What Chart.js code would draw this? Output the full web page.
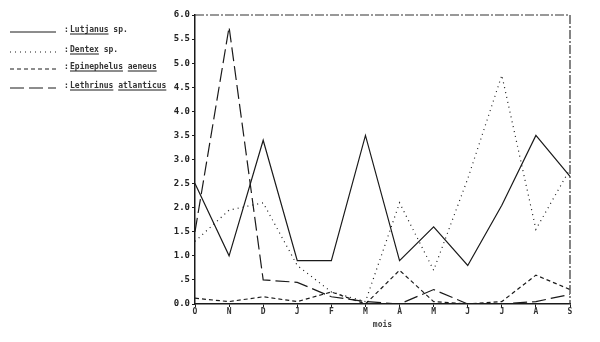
<!DOCTYPE html>
<html>
<head>
<meta charset="utf-8">
<script src="https://cdn.jsdelivr.net/npm/chart.js@4/dist/chart.umd.min.js"></script>
<style>
  html, body { margin: 0; padding: 0; background: #fff; }
  #wrap { width: 600px; height: 342px; position: relative; }
</style>
</head>
<body>
<div id="wrap"><canvas id="grafica" width="600" height="342"></canvas></div>
<script>
// mois (octobre -> septembre)
const months = ['O', 'N', 'D', 'J', 'F', 'M', 'A', 'M', 'J', 'J', 'A', 'S'];
const yTickLabels = ['0.0', '.5', '1.0', '1.5', '2.0', '2.5', '3.0', '3.5', '4.0', '4.5', '5.0', '5.5', '6.0'];

const lutjanus = [2.5, 1.0, 3.4, 0.9, 0.9, 3.5, 0.9, 1.6, 0.8, 2.05, 3.5, 2.65];
const dentex = [1.3, 1.95, 2.1, 0.8, 0.25, 0.05, 2.1, 0.7, 2.6, 4.75, 1.55, 2.8];
const epinephelus = [0.12, 0.05, 0.15, 0.05, 0.25, 0.0, 0.7, 0.05, 0.0, 0.05, 0.6, 0.3];
const lethrinus = [1.5, 5.75, 0.5, 0.45, 0.15, 0.05, 0.0, 0.3, 0.0, 0.0, 0.05, 0.2];

const speciesNames = [
    ['Lutjanus', ' sp.'],
    ['Dentex', ' sp.'],
    ['Epinephelus aeneus', ''],
    ['Lethrinus atlanticus', '']
];
const dashes = [[], [1, 4], [4, 3], [14, 5]];

const ink = '#1a1a1a';
const monoFont = '"DejaVu Sans Mono", monospace';

function makeSet(label, values, dash) {
    return {
        label: label,
        data: values,
        borderColor: ink,
        borderWidth: 1.2,
        borderDash: dash,
        pointRadius: 0,
        tension: 0,
        fill: false
    };
}

// cadre haut/droite en trait mixte + legende a gauche
const framePlugin = {
    id: 'framePlugin',
    afterDraw(chart) {
        const ctx = chart.ctx;
        const a = chart.chartArea;
        ctx.save();
        ctx.strokeStyle = '#333';
        ctx.lineWidth = 1.2;
        ctx.setLineDash([9, 2, 2, 2]);
        ctx.beginPath();
        ctx.moveTo(a.left, a.top);
        ctx.lineTo(a.right, a.top);
        ctx.lineTo(a.right, a.bottom);
        ctx.stroke();

        // legende
        const rows = [32, 52, 69, 88];
        ctx.font = 'bold 8px ' + monoFont;
        ctx.textBaseline = 'alphabetic';
        ctx.fillStyle = '#333';
        for (let i = 0; i < rows.length; i++) {
            const y = rows[i];
            ctx.setLineDash(dashes[i]);
            ctx.lineWidth = 1;
            ctx.strokeStyle = ink;
            ctx.beginPath();
            ctx.moveTo(10, y);
            ctx.lineTo(56, y);
            ctx.stroke();

            ctx.setLineDash([]);
            const tx = 64;
            const ty = y;
            ctx.fillText(':', tx, ty);
            const name = speciesNames[i][0];
            const rest = speciesNames[i][1];
            const nx = tx + 6;
            ctx.fillText(name, nx, ty);
            // souligner le nom latin (sans les espaces)
            let cx = nx;
            name.split(' ').forEach(function (w) {
                const ww = ctx.measureText(w).width;
                ctx.beginPath();
                ctx.moveTo(cx, ty + 2);
                ctx.lineTo(cx + ww, ty + 2);
                ctx.stroke();
                cx += ww + ctx.measureText(' ').width;
            });
            ctx.fillText(rest, nx + ctx.measureText(name).width, ty);
        }
        ctx.restore();
    }
};

window.onload = function () {
    const graph = document.querySelector('#grafica');

    const data = {
        labels: months,
        datasets: [
            makeSet(speciesNames[0].join(''), lutjanus, dashes[0]),
            makeSet(speciesNames[1].join(''), dentex, dashes[1]),
            makeSet(speciesNames[2].join(''), epinephelus, dashes[2]),
            makeSet(speciesNames[3].join(''), lethrinus, dashes[3])
        ]
    };

    const config = {
        type: 'line',
        data: data,
        options: {
            responsive: false,
            animation: false,
            layout: { padding: { left: 165, top: 15, right: 30, bottom: 12 } },
            plugins: {
                legend: { display: false },
                tooltip: { enabled: false }
            },
            scales: {
                x: {
                    offset: false,
                    grid: { display: true, drawOnChartArea: false, drawTicks: true, tickLength: 3, color: ink },
                    border: { color: ink, width: 1.5 },
                    ticks: {
                        color: '#333',
                        font: { family: monoFont, size: 8, weight: 'bold' },
                        padding: 0,
                        maxRotation: 0,
                        autoSkip: false
                    },
                    title: {
                        display: true,
                        text: 'mois',
                        color: '#444',
                        font: { family: monoFont, size: 8, weight: 'bold' },
                        padding: { top: 4, bottom: 0 }
                    },
                    afterFit(scale) { scale.height = 26; }
                },
                y: {
                    min: 0,
                    max: 6,
                    grid: { display: true, drawOnChartArea: false, drawTicks: true, tickLength: 3, color: ink },
                    border: { color: ink, width: 1.5 },
                    ticks: {
                        stepSize: 0.5,
                        color: '#222',
                        font: { family: monoFont, size: 9, weight: 'bold' },
                        padding: 2,
                        callback: function (value, index) { return yTickLabels[index]; }
                    },
                    afterFit(scale) { scale.width = 30; }
                }
            }
        },
        plugins: [framePlugin]
    };

    financeChart = new Chart(graph, config);
};
</script>
</body>
</html>
